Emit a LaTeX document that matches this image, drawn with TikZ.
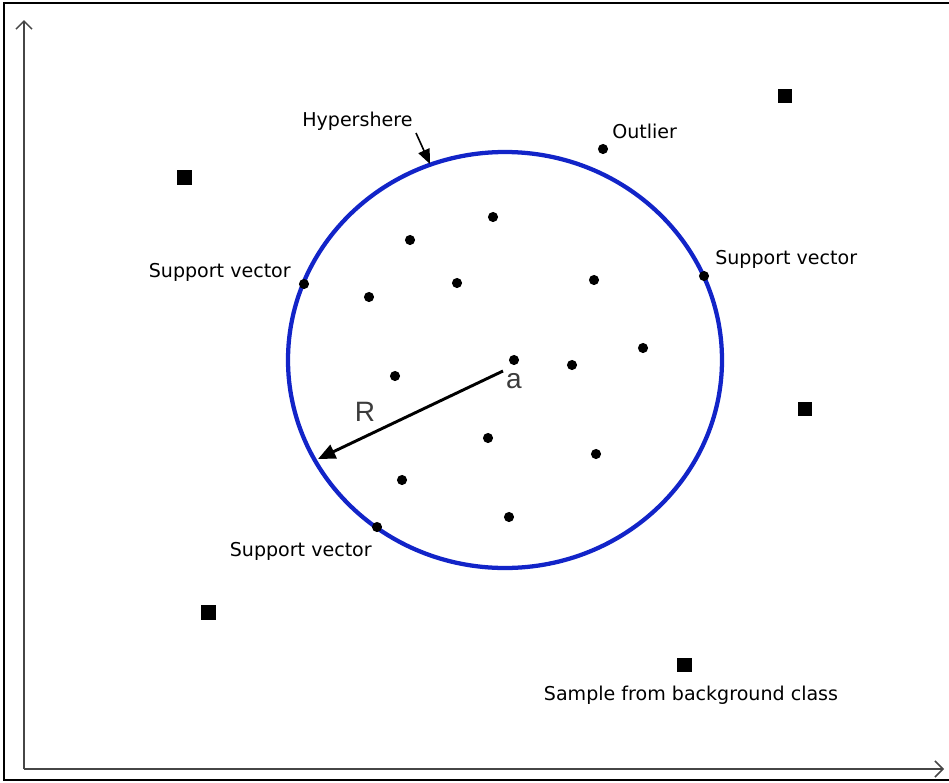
\documentclass[tikz,border=0pt]{standalone}
\usepackage{fontspec}
\setmainfont{DejaVu Sans}
\newfontfamily\arialfont{Liberation Sans}
\usepackage{tikz}
\usetikzlibrary{positioning,arrows.meta,calc}
\usepackage{xcolor}
\definecolor{sphere}{RGB}{18,36,200}
\definecolor{axisgray}{RGB}{70,70,70}
\definecolor{lettergray}{RGB}{60,60,60}

\begin{document}
\begin{tikzpicture}[x=0.75pt, y=-0.75pt,
  dot/.style={circle, fill=black, inner sep=0pt, minimum size=7.6pt},
  sample/.style={rectangle, fill=black, inner sep=0pt, minimum size=11pt},
  txt/.style={inner sep=0pt, font=\fontsize{14.3}{17}\selectfont},
  bigtxt/.style={inner sep=0pt, text=lettergray, font=\arialfont\fontsize{21}{24}\selectfont},
  axis/.style={draw=axisgray, line width=1.5pt, -{Straight Barb[length=6pt, width=12pt, line width=1.1pt]}},
  hsphere/.style={draw=sphere, line width=3.2pt},
  pointer/.style={draw=black, line width=1.2pt, -{Triangle[length=11pt, width=9pt]}},
  radius/.style={draw=black, line width=2.2pt, -{Triangle[length=13pt, width=11pt]}}
]
\useasboundingbox (0,0) rectangle (949,782);
% frame and axes
\draw[line width=2pt] (949,3) -| (4,780) -- (949,780);
\coordinate (o) at (24,769);
\coordinate (ytop) at (24,20);
\coordinate (xend) at (944,769);
\draw[axis] (o) -- (ytop);
\draw[axis] (o) -- (xend);

% hypersphere
\coordinate (ctr) at (505,360);
\draw[hsphere] (ctr) ellipse [x radius=217, y radius=208];

% target class samples
\node[dot] (d1) at (493,217) {}; \node[dot] (d2) at (410,240) {};
\node[dot] (d3) at (369,297) {}; \node[dot] (d4) at (457,283) {};
\node[dot] (d5) at (594,280) {}; \node[dot] (d6) at (514,360) {};
\node[dot] (d7) at (643,348) {}; \node[dot] (d8) at (572,365) {};
\node[dot] (d9) at (395,376) {}; \node[dot] (d10) at (488,438) {};
\node[dot] (d11) at (596,454) {}; \node[dot] (d12) at (402,480) {};
\node[dot] (d13) at (509,517) {};
\node[dot] (sv1) at (304,284) {}; \node[dot] (sv2) at (704,276) {};
\node[dot] (sv3) at (377,527) {};
\node[dot] (out) at (603,149) {};

% background class samples
\node[sample] (b1) at (785,96) {}; \node[sample] (b2) at (184.5,177.5) {};
\node[sample] (b3) at (805,409) {}; \node[sample] (b4) at (208.5,612.5) {};
\node[sample] (b5) at (684.5,665) {};

% labels
\node[txt, anchor=base west] (thyp) at (302,126) {Hypershere};
\node[txt, anchor=base west] (tout) at (612,138) {Outlier};
\node[txt, anchor=base east] (tsv1) at (291,277) {Support vector};
\node[txt, anchor=base west] (tsv2) at (715,264) {Support vector};
\node[txt, anchor=base east] (tsv3) at (372,556) {Support vector};
\node[txt, anchor=base] (tbg) at (691,700) {Sample from background class};
\node[bigtxt, anchor=base] (tr) at (365,421) {R};
\node[bigtxt, anchor=base] (ta) at (514,388) {a};

% arrows
\coordinate (hs tail) at (416,133);
\coordinate (hs tip) at (430,164);
\draw[pointer] (hs tail) -- (hs tip);
\coordinate (r tail) at (503,371);
\coordinate (r tip) at (318,459);
\draw[radius] (r tail) -- (r tip);
\end{tikzpicture}
\end{document}
